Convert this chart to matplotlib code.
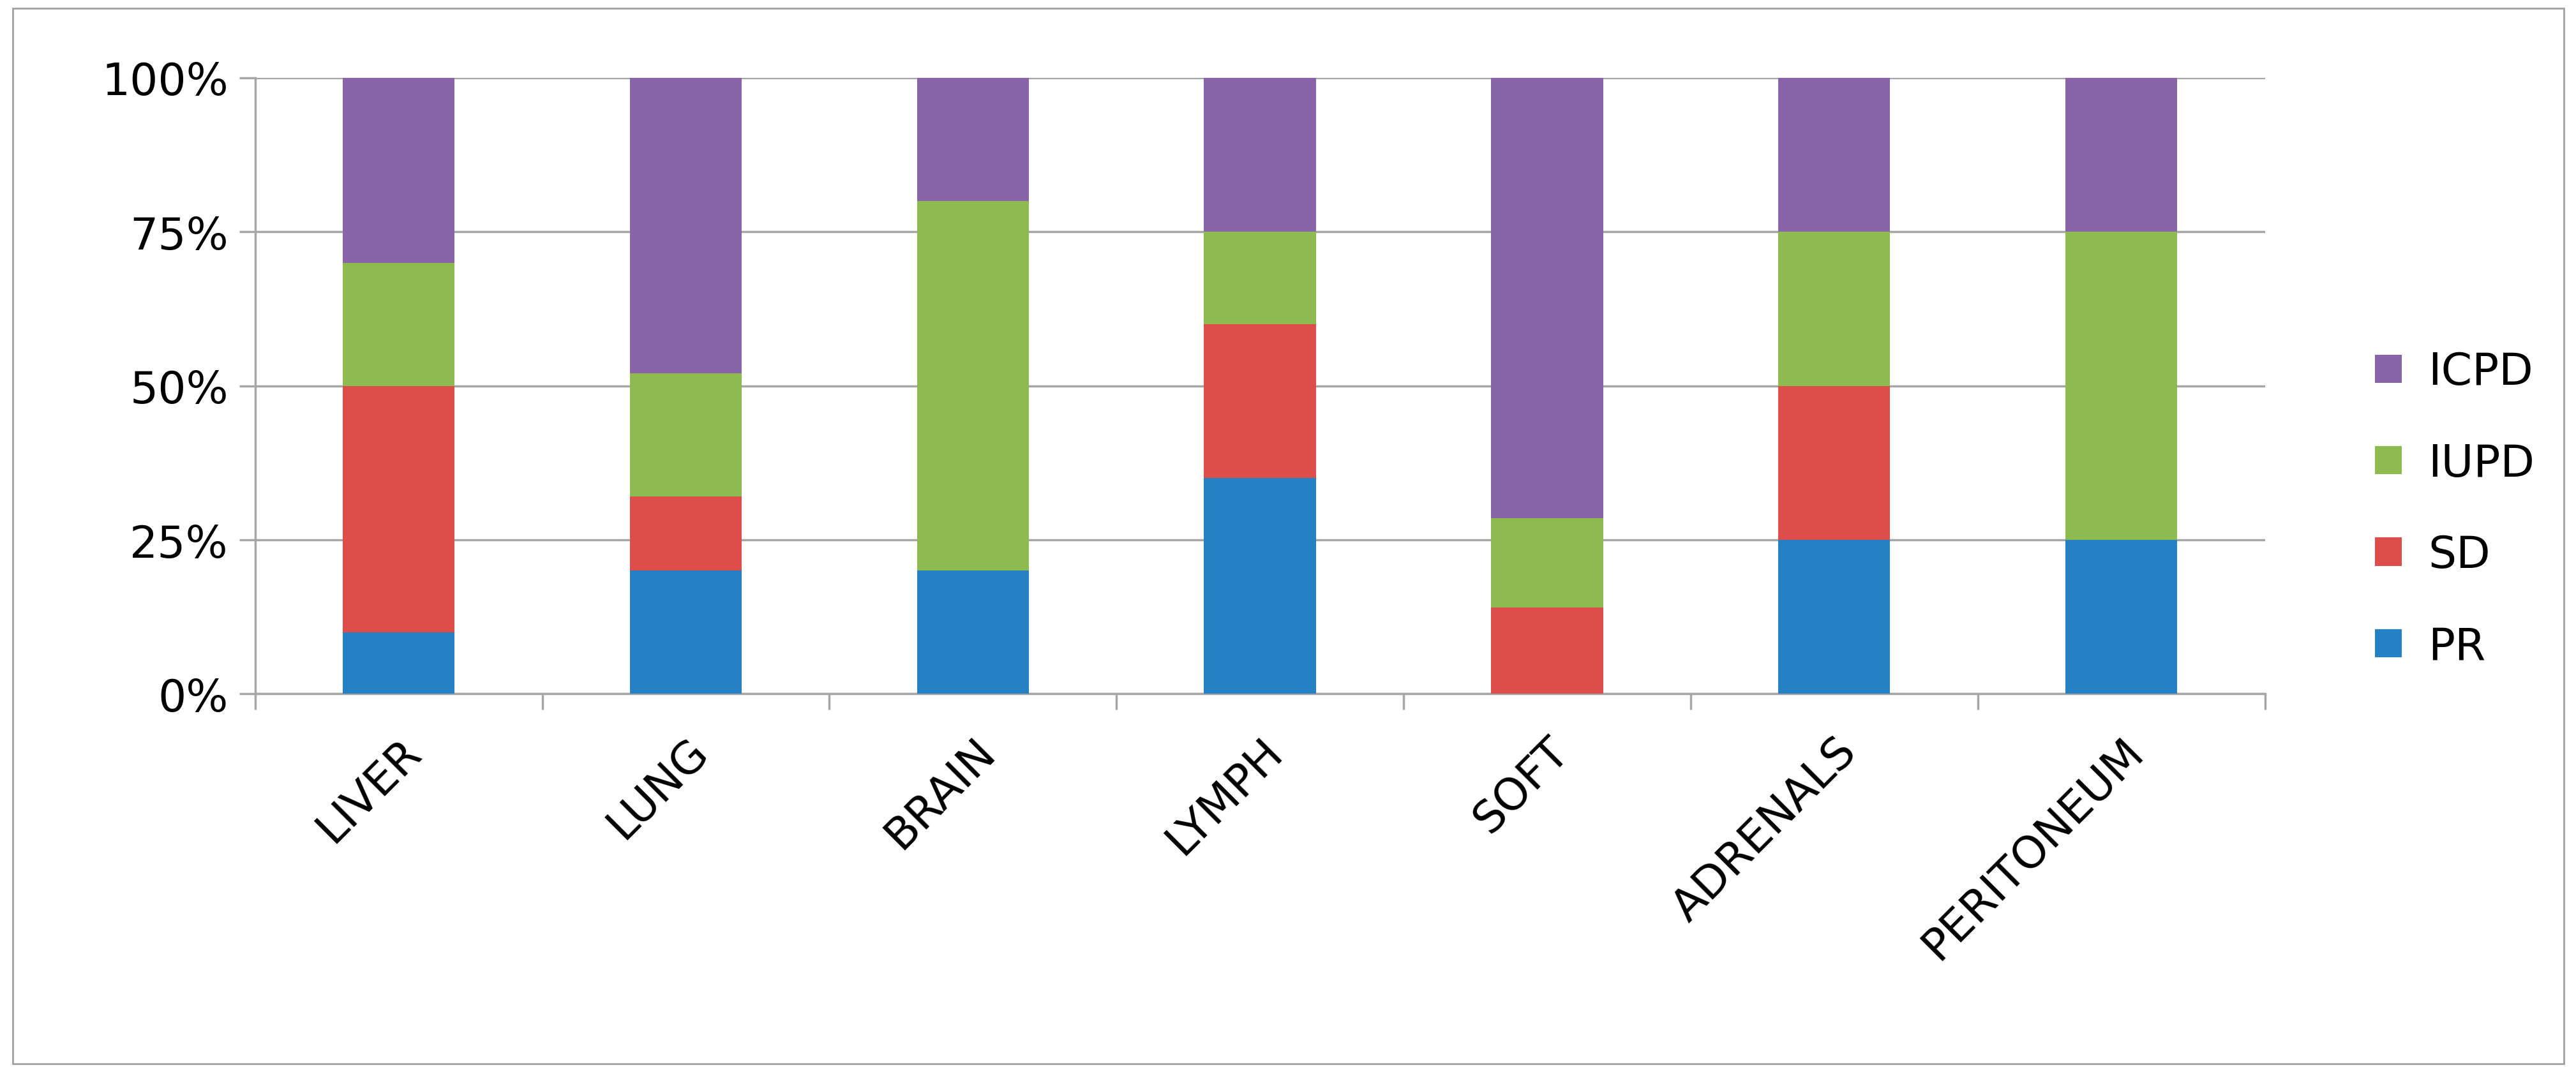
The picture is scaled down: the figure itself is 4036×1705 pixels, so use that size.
import numpy as np
import matplotlib.pyplot as plt
from matplotlib.patches import Rectangle

sites = ['LIVER', 'LUNG', 'BRAIN', 'LYMPH', 'SOFT', 'ADRENALS', 'PERITONEUM']
pr = [10, 20, 20, 35, 0, 25, 25]
sd = [40, 12, 0, 25, 14, 25, 0]
iupd = [20, 20, 60, 15, 14.5, 25, 50]
icpd = [30, 48, 20, 25, 71.5, 25, 25]
series = [('PR', pr, '#2581c4'), ('SD', sd, '#dd4e4b'),
          ('IUPD', iupd, '#8dbb4f'), ('ICPD', icpd, '#8a64a8')]

fig = plt.figure(figsize=(40.37, 17.06), dpi=100)
fig.patches.append(Rectangle((0.005, 0.022), 0.99, 0.97, transform=fig.transFigure,
                             fill=False, edgecolor='#a0a0a0', lw=2))
ax = fig.add_axes([0.099, 0.362, 0.78, 0.566])
x = np.arange(len(sites))
bottom = np.zeros(len(sites))
handles = []
for name, vals, col in series:
    h = ax.bar(x, vals, 0.39, bottom=bottom, color=col, label=name, zorder=3)
    bottom += np.array(vals)
    handles.append(h)

ax.set_xlim(-0.5, len(sites) - 0.5)
ax.set_ylim(0, 100)
ax.set_yticks([0, 25, 50, 75, 100])
ax.set_yticklabels(['0%', '25%', '50%', '75%', '100%'], fontsize=50)
ax.yaxis.grid(True, color='#a6a6a6', lw=2.5, zorder=0)
ax.set_xticks(np.arange(len(sites) + 1) - 0.5)
ax.set_xticklabels([])
ax.set_xticks(x, minor=True)
ax.set_xticklabels(sites, minor=True, rotation=45, ha='right', va='top',
                   fontsize=50, rotation_mode='anchor')
ax.tick_params(axis='x', which='minor', length=0, pad=40)
ax.tick_params(axis='both', which='major', length=18, width=2.5, color='#a6a6a6')
ax.tick_params(axis='y', pad=12)
for s in ['top', 'right']:
    ax.spines[s].set_visible(False)
for s in ['left', 'bottom']:
    ax.spines[s].set_color('#a6a6a6')
    ax.spines[s].set_linewidth(2.5)

ax.legend(handles[::-1], [s[0] for s in series][::-1], loc='center left',
          bbox_to_anchor=(1.035, 0.3), frameon=False, fontsize=50,
          handlelength=0.6, handleheight=0.6, labelspacing=1.1, handletextpad=0.6)

fig.savefig('out.png', dpi=100)
